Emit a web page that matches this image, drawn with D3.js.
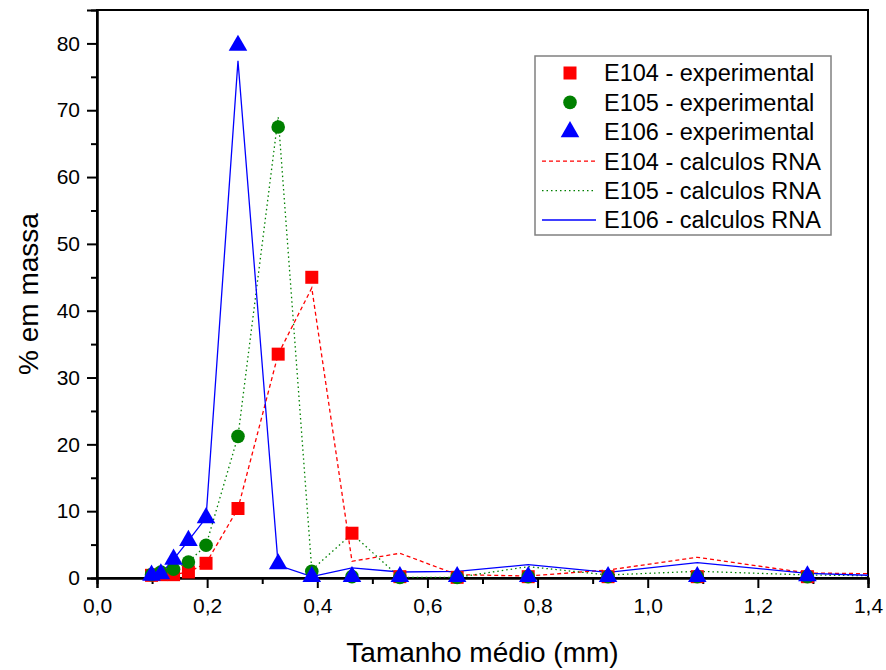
<!DOCTYPE html>
<html>
<head>
<meta charset="utf-8">
<script src="https://cdn.jsdelivr.net/npm/d3@7"></script>
<style>
  body { margin: 0; background: #fff; }
  svg { font-family: 'Liberation Sans', Arial, sans-serif; }
  .axis .domain { stroke: #000; stroke-width: 2px; }
  .axis .tick line { stroke: #000; stroke-width: 2px; }
</style>
</head>
<body>
<svg width="886" height="670"></svg>
<script>
// Tamanho médio (mm) of each fraction; the last one lies past the axis end
const sizes = [0.099, 0.116, 0.139, 0.166, 0.198, 0.256, 0.329, 0.390, 0.463, 0.550, 0.654, 0.783, 0.928, 1.090, 1.290, 1.500]

// % em massa, experimental
const e104Exp = [0.4, 0.5, 0.5, 0.9, 2.2, 10.4, 33.5, 45.0, 6.7, 0.2, 0.1, 0.2, 0.2, 0.2, 0.2]
const e105Exp = [0.5, 0.9, 1.3, 2.4, 4.9, 21.2, 67.5, 1.0, 0.2, 0.1, 0.1, 0.2, 0.2, 0.2, 0.2]
const e106Exp = [0.4, 0.6, 2.8, 5.6, 9.0, 79.7, 2.1, 0.2, 0.2, 0.2, 0.2, 0.2, 0.2, 0.2, 0.3]

// % em massa, calculos RNA
const e104Rna = [0.3, 0.4, 0.5, 0.9, 2.2, 10.4, 33.5, 43.4, 2.5, 3.7, 0.5, 0.3, 1.2, 3.1, 0.75, 0.55]
const e105Rna = [0.4, 0.8, 1.3, 2.4, 4.9, 21.2, 69.0, 1.2, 6.6, 0.1, 0.1, 1.7, 0.45, 1.0, 0.45, 0.25]
const e106Rna = [0.4, 0.6, 2.8, 5.6, 9.0, 77.4, 1.9, 0.2, 1.5, 0.9, 1.0, 2.0, 0.85, 2.3, 0.7, 0.15]

const xTicks = [0, 0.2, 0.4, 0.6, 0.8, 1.0, 1.2, 1.4]
const yTicks = [0, 10, 20, 30, 40, 50, 60, 70, 80]

const width = 886
const height = 670
const margin = { top: 10, right: 18, bottom: 92, left: 97 }

const svg = d3.select('svg')

const x = d3.scaleLinear([0, 1.4], [margin.left, width - margin.right])
const y = d3.scaleLinear([0, 85], [height - margin.bottom, margin.top])

const comma = d3.formatLocale({ decimal: ',', thousands: '.', grouping: [3], currency: ['', ''] }).format('.1f')

svg.append('defs').append('clipPath')
  .attr('id', 'plot')
  .append('rect')
  .attr('x', margin.left)
  .attr('y', margin.top)
  .attr('width', width - margin.left - margin.right)
  .attr('height', height - margin.top - margin.bottom)

// frame
svg.append('rect')
  .attr('x', margin.left)
  .attr('y', margin.top)
  .attr('width', width - margin.left - margin.right)
  .attr('height', height - margin.top - margin.bottom)
  .attr('fill', 'none')
  .attr('stroke', '#000')
  .attr('stroke-width', 2)

// minor ticks
svg.append('g')
  .classed('axis', true)
  .attr('transform', `translate(0,${ y(0) })`)
  .call(d3.axisBottom(x).tickValues(d3.range(0.1, 1.4, 0.2)).tickSize(6).tickFormat(''))
svg.append('g')
  .classed('axis', true)
  .attr('transform', `translate(${ margin.left },0)`)
  .call(d3.axisLeft(y).tickValues(d3.range(5, 85, 10)).tickSize(6).tickFormat(''))

// X Axis
svg.append('g')
  .classed('axis', true)
  .attr('transform', `translate(0,${ y(0) })`)
  .call(d3.axisBottom(x).tickValues(xTicks).tickSize(10).tickPadding(10).tickFormat(comma))

// Y Axis
svg.append('g')
  .classed('axis', true)
  .attr('transform', `translate(${ margin.left },0)`)
  .call(d3.axisLeft(y).tickValues(yTicks).tickSize(10).tickPadding(7))

svg.selectAll('.tick text')
  .attr('fill', '#000')
  .style('font-size', '21px')
  .style('font-family', "'Liberation Sans', Arial, sans-serif")

svg.append('text')
  .attr('x', (x(0) + x(1.4)) / 2)
  .attr('y', 662)
  .attr('text-anchor', 'middle')
  .attr('font-size', 28)
  .text('Tamanho médio (mm)')

svg.append('text')
  .attr('transform', `translate(38,${ (y(0) + y(85)) / 2 }) rotate(-90)`)
  .attr('text-anchor', 'middle')
  .attr('font-size', 28)
  .text('% em massa')

// calculated lines
const calc = [
  { name: 'E104 - calculos RNA', values: e104Rna, color: '#ff0000', dash: '4,3' },
  { name: 'E105 - calculos RNA', values: e105Rna, color: '#008000', dash: '1.5,3' },
  { name: 'E106 - calculos RNA', values: e106Rna, color: '#0000ff', dash: null },
]

const line = d3.line()
  .x((d, i) => x(sizes[i]))
  .y(d => y(d))

const lines = svg.append('g').attr('clip-path', 'url(#plot)')
lines.selectAll('path')
  .data(calc)
  .join('path')
  .attr('d', d => line(d.values))
  .attr('fill', 'none')
  .attr('stroke', d => d.color)
  .attr('stroke-width', 1.3)
  .attr('stroke-dasharray', d => d.dash)

// experimental points
const exp = [
  { name: 'E104 - experimental', values: e104Exp, color: '#ff0000', symbol: d3.symbolSquare, size: 169 },
  { name: 'E105 - experimental', values: e105Exp, color: '#008000', symbol: d3.symbolCircle, size: 145 },
  { name: 'E106 - experimental', values: e106Exp, color: '#0000ff', symbol: d3.symbolTriangle, size: 150 },
]

svg.append('g')
  .selectAll('g')
  .data(exp)
  .join('g')
  .attr('fill', d => d.color)
  .each(function (s) {
    d3.select(this).selectAll('path')
      .data(s.values)
      .join('path')
      .attr('transform', (d, i) => `translate(${ x(sizes[i]) },${ y(d) })`)
      .attr('d', d3.symbol(s.symbol, s.size))
  })

// Legend
const legend = svg.append('g')
legend.append('rect')
  .attr('x', 535)
  .attr('y', 56)
  .attr('width', 296)
  .attr('height', 179)
  .attr('fill', '#fff')
  .attr('stroke', '#808080')
  .attr('stroke-width', 1.5)

const rows = [...exp, ...calc]
const rowEl = legend.selectAll('g.row')
  .data(rows)
  .join('g')
  .classed('row', true)
  .attr('transform', (d, i) => `translate(0,${ 73 + i * 29.4 })`)

rowEl.filter(d => d.symbol)
  .append('path')
  .attr('transform', 'translate(570,0)')
  .attr('d', d => d3.symbol(d.symbol, d.size)())
  .attr('fill', d => d.color)

rowEl.filter(d => !d.symbol)
  .append('line')
  .attr('x1', 542)
  .attr('x2', 596)
  .attr('stroke', d => d.color)
  .attr('stroke-width', 1.3)
  .attr('stroke-dasharray', d => d.dash)

rowEl.append('text')
  .attr('x', 604)
  .attr('dy', '0.36em')
  .attr('font-size', 23.5)
  .text(d => d.name)
</script>
</body>
</html>
